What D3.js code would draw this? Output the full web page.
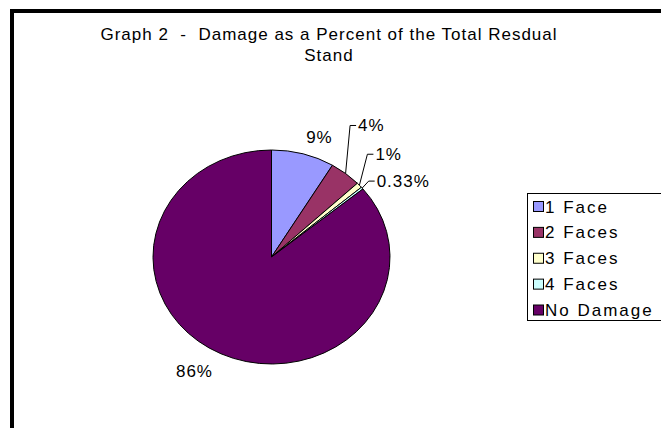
<!DOCTYPE html>
<html>
<head>
<meta charset="utf-8">
<script src="https://cdn.jsdelivr.net/npm/d3@7"></script>
<style>
  html, body { margin: 0; padding: 0; background: #fff; }
  svg { display: block; }
  text { font-family: "Liberation Sans", Arial, sans-serif; fill: #000; }
</style>
</head>
<body>
<svg id="chart" width="661" height="428"></svg>
<script>
// ---- data ----
const categories = ["1 Face", "2 Faces", "3 Faces", "4 Faces", "No Damage"];
const values = [8.6, 4.3, 0.8, 0.33, 85.97];
const valueLabels = ["9%", "4%", "1%", "0.33%", "86%"];
const colors = ["#9999FF", "#993366", "#FFFFCC", "#CCFFFF", "#660066"];
const titleLines = ["Graph 2  -  Damage as a Percent of the Total Resdual", "Stand"];

// ---- layout ----
const cx = 271.5, cy = 257, ry = 107, stretch = 1.1075;
const svg = d3.select("#chart");

// frame
svg.append("rect").attr("x", 12).attr("y", 11).attr("width", 720).attr("height", 520)
  .attr("fill", "none").attr("stroke", "#000").attr("stroke-width", 4);

// title
const title = svg.append("text").attr("text-anchor", "middle")
  .style("font-size", "17px").style("letter-spacing", "1px").attr("xml:space", "preserve");
titleLines.forEach((t, i) => {
  title.append("tspan").attr("x", 329).attr("y", 40 + i * 21).text(t);
});

// pie
const pie = d3.pie().sort(null).value(d => d)(values);
const arc = d3.arc().innerRadius(0).outerRadius(ry);
const g = svg.append("g").attr("transform", `translate(${cx},${cy}) scale(${stretch},1)`);
g.selectAll("path").data(pie).join("path")
  .attr("d", arc)
  .attr("fill", (d, i) => colors[i])
  .attr("stroke", "#000").attr("stroke-width", 1)
  .attr("vector-effect", "non-scaling-stroke");

function edgePoint(d) {
  const a = (d.startAngle + d.endAngle) / 2;
  return [cx + Math.sin(a) * ry * stretch, cy - Math.cos(a) * ry];
}

// label placement (layout offsets per label)
const labelLayout = [
  { type: "free", dx: 3, dy: -11 },
  { type: "leader", lx: 4.5, ly: -48 },
  { type: "leader", lx: 8, ly: -31 },
  { type: "leader", lx: 6.5, ly: -7 },
  { type: "free", dx: -45, dy: 23 }
];

const labels = svg.append("g").style("font-size", "17px").style("letter-spacing", "1px");
pie.forEach((d, i) => {
  const [ex, ey] = edgePoint(d);
  const L = labelLayout[i];
  if (L.type === "leader") {
    const bx = ex + L.lx, by = ey + L.ly;
    labels.append("path")
      .attr("d", `M${ex},${ey}L${bx},${by}L${bx + 6},${by}`)
      .attr("fill", "none").attr("stroke", "#000").attr("stroke-width", 1);
    labels.append("text").attr("x", bx + 8).attr("y", by + 6).text(valueLabels[i]);
  } else {
    labels.append("text").attr("x", ex + L.dx).attr("y", ey + L.dy).text(valueLabels[i]);
  }
});

// legend
const leg = svg.append("g");
leg.append("rect").attr("x", 527.5).attr("y", 193.5).attr("width", 140).attr("height", 127)
  .attr("fill", "#fff").attr("stroke", "#000").attr("stroke-width", 1);
const rowY = d3.scalePoint().domain(categories).range([206.5, 310]);
categories.forEach((c, i) => {
  const y = rowY(c);
  leg.append("rect").attr("x", 533.5).attr("y", y - 5).attr("width", 10).attr("height", 10)
    .attr("fill", colors[i]).attr("stroke", "#000").attr("stroke-width", 1);
  leg.append("text").attr("x", 545).attr("y", y + 6)
    .style("font-size", "17px").style("letter-spacing", "2px").text(c);
});
</script>
</body>
</html>
